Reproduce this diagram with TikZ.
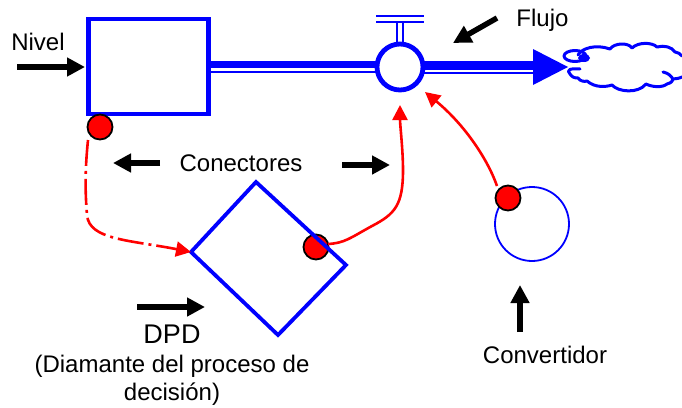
\documentclass[tikz,border=0pt]{standalone}
\usepackage{fontspec}
\setmainfont{Liberation Sans}
\usetikzlibrary{arrows.meta,shapes.geometric}
\definecolor{bl}{RGB}{0,0,255}
\tikzset{
  lbl/.style={inner sep=0pt,font=\fontsize{24}{28}\selectfont,align=center},
  pointer/.style={draw=black,line width=5.5pt,-{Triangle[length=18pt,width=18pt]}},
  conn/.style={draw=red,line width=2.6pt,-{Triangle[length=15pt,width=15pt]}},
  dot/.style={circle,draw=black,fill=red,line width=1.8pt,minimum size=25pt,inner sep=0pt},
  cloudline/.style={draw=bl,line width=3pt,line cap=round,line join=round}
}
\begin{document}
\begin{tikzpicture}[x=1pt,y=-1pt]
\useasboundingbox (0,0) rectangle (682,407);
% pipes
\fill[bl] (209,61) rectangle (380,73);
\fill[white] (209,68) rectangle (380,70.5);
\fill[bl] (420,60.5) rectangle (535,74);
\fill[white] (420,70) rectangle (535,71.5);
\fill[bl] (533,49) -- (568,67) -- (533,85) -- cycle;
% valve stem
\draw[bl,line width=2pt] (397,22) -- (397,44) (403,22) -- (403,44);
\draw[bl,line width=2.2pt] (376,16) -- (424,16) (376,22) -- (424,22);
% stock and valve
\node[draw=bl,line width=4.5pt,fill=white,minimum width=120pt,minimum height=95pt,inner sep=0pt] (nivel) at (148.5,66.5) {};
\node[circle,draw=bl,line width=4.8pt,fill=white,minimum size=46pt,inner sep=0pt] (valve) at (400,67) {};
% cloud
\draw[cloudline] (580,69) .. controls (570,68) and (566,70) .. (570,74) .. controls (572,77) and (574,78) .. (578,78)
  .. controls (580,81) and (584,82) .. (587,81) .. controls (595,88) and (606,87) .. (612,85)
  .. controls (618,92) and (638,94) .. (646,84) .. controls (652,87) and (662,88) .. (667,84)
  .. controls (671,83) and (673,81) .. (673,79) .. controls (676,79) and (680,78) .. (682,77);
\draw[cloudline] (663,72) .. controls (668,73) and (672,76) .. (673,80);
\draw[cloudline] (578,55) .. controls (582,48) and (596,44) .. (610,49) .. controls (614,43) and (628,42) .. (632,48)
  .. controls (638,42) and (652,42) .. (657,47) .. controls (664,45) and (672,47) .. (675,52) .. controls (678,52) and (680,54) .. (682,56);
\draw[cloudline] (575,56) ellipse [x radius=11,y radius=5.5];
\fill[bl] (584,58) ellipse [x radius=6,y radius=4];
% dots beneath the diamond
\node[dot] (d1) at (100,127) {};
\node[dot] (d2) at (316,247) {};
% decision diamond
\coordinate (dt) at (256,182);
\coordinate (dr) at (346,265);
\coordinate (db) at (278,335);
\coordinate (dl) at (191,252);
\draw[bl,line width=3.8pt,line join=miter] (dt) -- (dr) -- (db) -- (dl) -- cycle;
% converter
\node[circle,draw=bl,line width=1.8pt,minimum size=74pt,inner sep=0pt] (conv) at (532,224) {};
\node[dot] (d3) at (508,198) {};
% connectors
\draw[conn,dash pattern=on 26pt off 5pt on 3pt off 5pt] (88,140) .. controls (85,170) and (85,190) .. (87,215) .. controls (89,240) and (130,240) .. (dl);
\coordinate (a2) at (400,105);
\coordinate (a3) at (425,92);
\draw[conn] (328,244) .. controls (345,243) and (350,238) .. (372,226) .. controls (395,214) and (403,205) .. (403,170) .. controls (403,150) and (400,125) .. (a2);
\draw[conn] (d3) ++(-11,-12) .. controls (488,160) and (465,125) .. (a3);
% black pointers
\coordinate (p1a) at (17,67); \coordinate (p1b) at (85,67);
\coordinate (p2a) at (497,18); \coordinate (p2b) at (453,43);
\coordinate (p3a) at (160,163); \coordinate (p3b) at (113,163);
\coordinate (p4a) at (342,165); \coordinate (p4b) at (390,165);
\coordinate (p5a) at (137,307); \coordinate (p5b) at (205,307);
\coordinate (p6a) at (520,332); \coordinate (p6b) at (520,285);
\draw[pointer] (p1a) -- (p1b);
\draw[pointer] (p2a) -- (p2b);
\draw[pointer] (p3a) -- (p3b);
\draw[pointer] (p4a) -- (p4b);
\draw[pointer] (p5a) -- (p5b);
\draw[pointer] (p6a) -- (p6b);
% labels
\node[lbl] (t1) at (38,42) {Nivel};
\node[lbl] (t2) at (542.5,20) {Flujo};
\node[lbl] (t3) at (241,163) {Conectores};
\node[lbl,font=\fontsize{27}{32}\selectfont] (t4) at (172,334) {DPD};
\node[lbl] (t5) at (172,380) {(Diamante del proceso de\\decisión)};
\node[lbl] (t6) at (545,355) {Convertidor};
\end{tikzpicture}
\end{document}
